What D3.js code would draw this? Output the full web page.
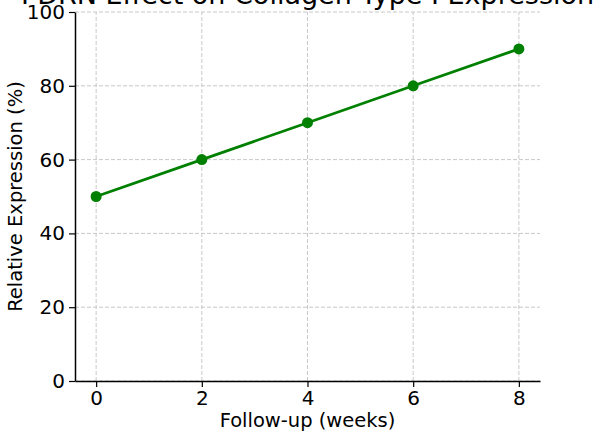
<!DOCTYPE html>
<html>
<head>
<meta charset="utf-8">
<script src="https://cdn.jsdelivr.net/npm/d3@7"></script>
<style>
  html, body { margin: 0; padding: 0; background: #fff; }
  svg { display: block; font-family: "DejaVu Sans", sans-serif; }
</style>
</head>
<body>
<div id="chart"></div>
<script>
// ------------------------------------
// Data
// ------------------------------------
const weeks = [0, 2, 4, 6, 8];
const expression = [50, 60, 70, 80, 90];
const xTicks = [0, 2, 4, 6, 8];
const yTicks = [0, 20, 40, 60, 80, 100];
const title = "PDRN Effect on Collagen Type I Expression";
const xLabel = "Follow-up (weeks)";
const yLabel = "Relative Expression (%)";

const width = 600;
const height = 434;
const margin = { top: 12, right: 60, bottom: 53, left: 75 };

const svg = d3.select("#chart")
    .append("svg")
    .attr("width", width)
    .attr("height", height);

// x domain padded 5% like the original
const x = d3.scaleLinear()
    .domain([-0.4, 8.4])
    .range([margin.left, width - margin.right]);

const y = d3.scaleLinear()
    .domain([0, 100])
    .range([height - margin.bottom, margin.top]);

// Grid
const grid = svg.append("g")
    .attr("stroke", "#c8c8c8")
    .attr("stroke-width", 1)
    .attr("stroke-dasharray", "4,2");

grid.selectAll("line.vx")
    .data(xTicks)
    .enter()
    .append("line")
    .attr("x1", d => x(d)).attr("x2", d => x(d))
    .attr("y1", y(0)).attr("y2", y(100));

grid.selectAll("line.hy")
    .data(yTicks)
    .enter()
    .append("line")
    .attr("x1", x(-0.4)).attr("x2", x(8.4))
    .attr("y1", d => y(d)).attr("y2", d => y(d));

// Axes
const xAxis = svg.append("g")
    .attr("transform", `translate(0,${y(0)})`)
    .call(d3.axisBottom(x).tickValues(xTicks).tickSize(6).tickPadding(4).tickSizeOuter(0));

const yAxis = svg.append("g")
    .attr("transform", `translate(${x(-0.4)},0)`)
    .call(d3.axisLeft(y).tickValues(yTicks).tickSize(6).tickPadding(4).tickSizeOuter(0));

[xAxis, yAxis].forEach(a => {
  a.attr("font-family", "DejaVu Sans").attr("font-size", 20);
  a.select(".domain").attr("stroke", "#000").attr("stroke-width", 1.5);
  a.selectAll(".tick line").attr("stroke", "#000").attr("stroke-width", 1.2);
  a.selectAll(".tick text").attr("fill", "#000");
});

// Line + markers
const line = d3.line()
    .x((d, i) => x(weeks[i]))
    .y(d => y(d));

svg.append("path")
    .datum(expression)
    .attr("fill", "none")
    .attr("stroke", "#008000")
    .attr("stroke-width", 2.8)
    .attr("d", line);

svg.selectAll("circle.pt")
    .data(expression)
    .enter()
    .append("circle")
    .attr("class", "pt")
    .attr("cx", (d, i) => x(weeks[i]))
    .attr("cy", d => y(d))
    .attr("r", 5.5)
    .attr("fill", "#008000");

// Labels
svg.append("text")
    .attr("x", (x(-0.4) + x(8.4)) / 2)
    .attr("y", 4)
    .attr("text-anchor", "middle")
    .attr("fill", "#000")
    .style("font-size", "27px")
    .text(title);

svg.append("text")
    .attr("x", (x(-0.4) + x(8.4)) / 2)
    .attr("y", 427)
    .attr("text-anchor", "middle")
    .attr("fill", "#000")
    .style("font-size", "19.5px")
    .text(xLabel);

svg.append("text")
    .attr("transform", `translate(22,${(y(0) + y(100)) / 2}) rotate(-90)`)
    .attr("text-anchor", "middle")
    .attr("fill", "#000")
    .style("font-size", "19.5px")
    .text(yLabel);
</script>
</body>
</html>
